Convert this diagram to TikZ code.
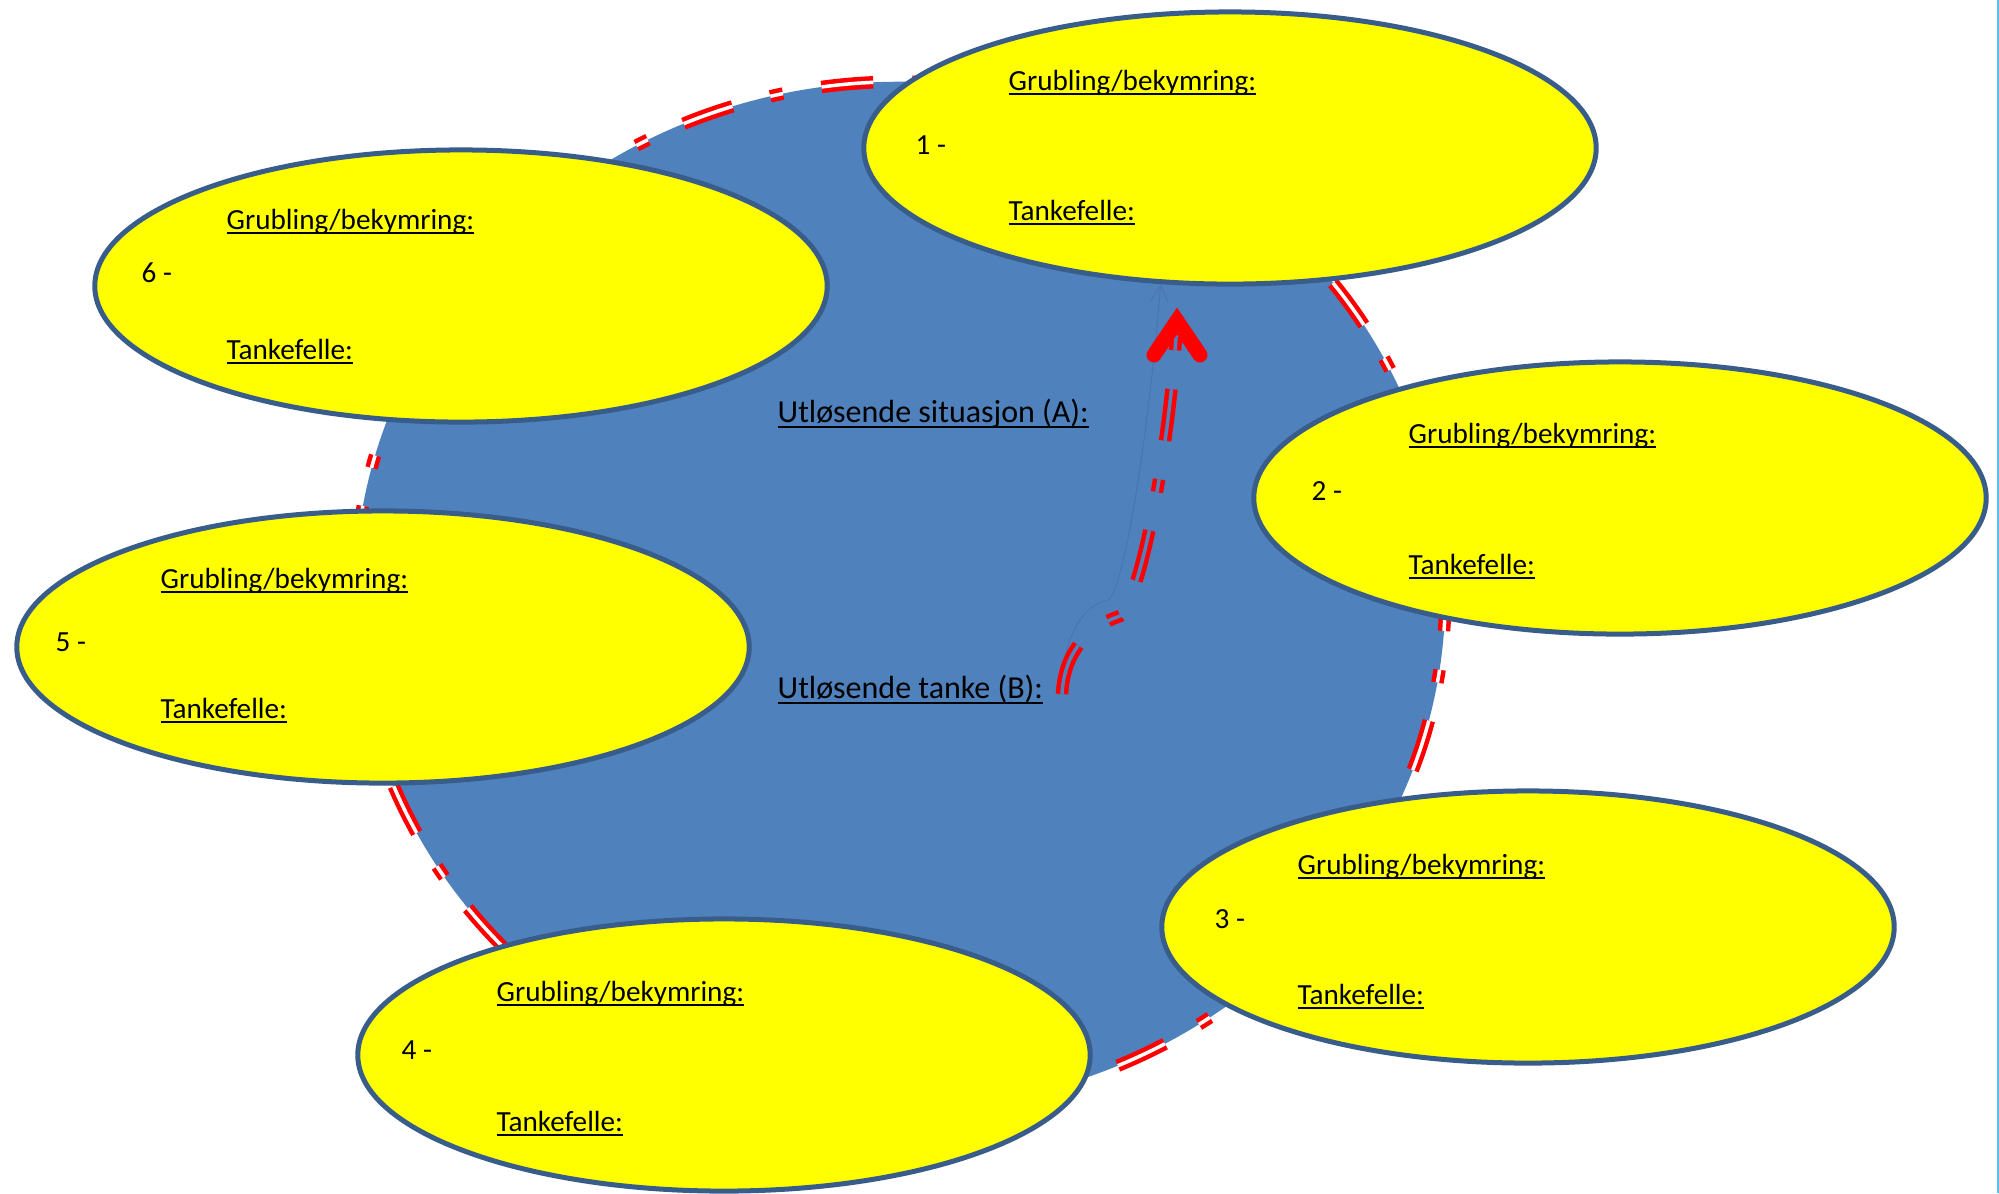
\documentclass[tikz,border=0pt]{standalone}
\usepackage{fontspec}
\setmainfont{Carlito}
\usepackage{tikz}
\usetikzlibrary{shapes.geometric,arrows.meta,backgrounds}
\definecolor{sirkelblaa}{HTML}{4F81BD}
\definecolor{kantblaa}{HTML}{385D8A}
\definecolor{bobgul}{HTML}{FFFF00}
\definecolor{kantlinje}{HTML}{4FC3F7}
\newcommand{\bobleb}{7.32cm}
\newcommand{\bobleh}{2.72cm}
\newcommand{\kant}{0.05cm}
\newcommand{\strek}[1]{\setbox0=\hbox{#1}\rlap{\rule[-0.187em]{\wd0}{0.078em}}\box0}
\tikzset{
  boble/.style={ellipse, draw=kantblaa, fill=bobgul, line width=\kant, minimum width=\bobleb, minimum height=\bobleh, inner sep=0pt},
  tekst/.style={anchor=base west, inner sep=0pt, font=\fontsize{8.3}{10}\selectfont},
  midttekst/.style={tekst, font=\fontsize{9.1}{11}\selectfont},
  rodstrek/.style={draw=red, line width=0.045cm, double distance=0.035cm, dash pattern=on 0.52cm off 0.39cm on 0.13cm off 0.39cm},
}

\begin{document}
\begin{tikzpicture}[x=0.01cm, y=-0.01cm]
\useasboundingbox (0,0) rectangle (1999,1193);
%1
\node[boble] (b1) at (1230,148) {};
\node[tekst] (g1) at ([shift={(-222,-58)}]b1.center) {\strek{Grubling/bekymring:}};
\node[tekst] (n1) at ([shift={(-315,6)}]b1.center) {1 -};
\node[tekst] (t1) at ([shift={(-222,72)}]b1.center) {\strek{Tankefelle:}};
%2
\node[boble] (b2) at (1620,498) {};
\node[tekst] (g2) at ([shift={(-212,-55)}]b2.center) {\strek{Grubling/bekymring:}};
\node[tekst] (n2) at ([shift={(-309,2)}]b2.center) {2 -};
\node[tekst] (t2) at ([shift={(-212,76)}]b2.center) {\strek{Tankefelle:}};
%3
\node[boble] (b3) at (1528,927) {};
\node[tekst] (g3) at ([shift={(-231,-53)}]b3.center) {\strek{Grubling/bekymring:}};
\node[tekst] (n3) at ([shift={(-314,1)}]b3.center) {3 -};
\node[tekst] (t3) at ([shift={(-231,77)}]b3.center) {\strek{Tankefelle:}};
%4
\node[boble] (b4) at (724,1055) {};
\node[tekst] (g4) at ([shift={(-228,-54)}]b4.center) {\strek{Grubling/bekymring:}};
\node[tekst] (n4) at ([shift={(-323,4)}]b4.center) {4 -};
\node[tekst] (t4) at ([shift={(-228,76)}]b4.center) {\strek{Tankefelle:}};
%5
\node[boble] (b5) at (383,647) {};
\node[tekst] (g5) at ([shift={(-223,-59)}]b5.center) {\strek{Grubling/bekymring:}};
\node[tekst] (n5) at ([shift={(-328,4)}]b5.center) {5 -};
\node[tekst] (t5) at ([shift={(-223,71)}]b5.center) {\strek{Tankefelle:}};
%6
\node[boble] (b6) at (461,286) {};
\node[tekst] (g6) at ([shift={(-235,-57)}]b6.center) {\strek{Grubling/bekymring:}};
\node[tekst] (n6) at ([shift={(-320,-4)}]b6.center) {6 -};
\node[tekst] (t6) at ([shift={(-235,73)}]b6.center) {\strek{Tankefelle:}};
%sirkel
\begin{scope}[on background layer]
\fill[white] (0,0) rectangle (1999,1193);
\node[ellipse, fill=sirkelblaa, rodstrek, double=white, minimum width=10.9cm, minimum height=10.26cm, inner sep=0pt] (sirkel) at (900,595) {};
\node[midttekst] (sa) at (777,422) {\strek{Utløsende situasjon (A):}};
\node[midttekst] (tb) at (777,698) {\strek{Utløsende tanke (B):}};
\coordinate (svakfot) at (1060,690);
\coordinate (pilfot) at (1062,694);
\coordinate (pilspiss) at (1177,321);
\draw[kantblaa!30!sirkelblaa, line width=0.01cm, -{Straight Barb[length=0.17cm, width=0.18cm]}] (svakfot) .. controls (1065,630) and (1085,605) .. (1108,600) .. controls (1125,590) and (1150,420) .. (b1.243);
\draw[rodstrek, double=sirkelblaa] (pilfot) .. controls (1064,655) and (1085,628) .. (1120,616) .. controls (1140,600) and (1170,450) .. (pilspiss);
\draw[red, line width=0.15cm, line cap=round, line join=miter] ([shift={(-23,34)}]pilspiss) -- (pilspiss) -- ([shift={(23,34)}]pilspiss);
\end{scope}
\draw[kantlinje, line width=0.012cm] (1998,0) -- (1998,1193);
\end{tikzpicture}
\end{document}
